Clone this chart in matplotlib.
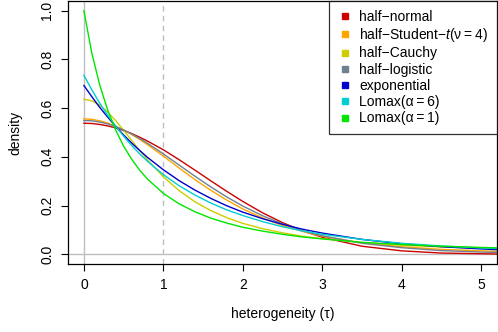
import matplotlib
matplotlib.use("Agg")
import matplotlib.pyplot as plt

plt.rcParams['font.family'] = ['Liberation Sans', 'DejaVu Sans']
plt.rcParams['mathtext.fontset'] = 'custom'
plt.rcParams['mathtext.rm'] = 'Liberation Sans'
plt.rcParams['mathtext.it'] = 'Liberation Sans:italic'

tau = [0, 0.1, 0.2, 0.3, 0.4, 0.5, 0.6, 0.7, 0.8, 1.0, 1.2, 1.4, 1.6, 1.8,
       2.0, 2.25, 2.5, 2.75, 3.0, 3.5, 4.0, 4.5, 5.0, 5.25]

half_normal = [0.538, 0.537, 0.533, 0.527, 0.519, 0.508, 0.496, 0.481, 0.465,
               0.429, 0.388, 0.345, 0.301, 0.258, 0.217, 0.170, 0.130, 0.096,
               0.070, 0.033, 0.014, 0.005, 0.002, 0.001]
half_t4 = [0.556, 0.554, 0.548, 0.539, 0.526, 0.511, 0.492, 0.472, 0.450,
           0.403, 0.354, 0.306, 0.262, 0.222, 0.186, 0.149, 0.118, 0.094,
           0.074, 0.047, 0.031, 0.020, 0.014, 0.011]
half_cauchy = [0.637, 0.630, 0.612, 0.584, 0.549, 0.509, 0.468, 0.427, 0.388,
               0.318, 0.261, 0.215, 0.179, 0.150, 0.127, 0.105, 0.088, 0.074,
               0.064, 0.048, 0.037, 0.030, 0.025, 0.022]
half_logistic = [0.549, 0.548, 0.543, 0.535, 0.524, 0.510, 0.494, 0.476, 0.456,
                 0.412, 0.366, 0.320, 0.276, 0.235, 0.198, 0.158, 0.125, 0.097,
                 0.076, 0.045, 0.027, 0.015, 0.009, 0.007]
exponential = [0.693, 0.647, 0.603, 0.563, 0.525, 0.490, 0.457, 0.427, 0.398,
               0.347, 0.302, 0.263, 0.229, 0.199, 0.173, 0.146, 0.123, 0.103,
               0.087, 0.061, 0.043, 0.031, 0.022, 0.018]
lomax6 = [0.735, 0.675, 0.620, 0.571, 0.526, 0.485, 0.447, 0.413, 0.382,
          0.327, 0.281, 0.243, 0.210, 0.182, 0.159, 0.134, 0.113, 0.096,
          0.082, 0.061, 0.045, 0.034, 0.026, 0.023]
lomax1 = [1.000, 0.826, 0.694, 0.592, 0.510, 0.444, 0.391, 0.346, 0.309,
          0.250, 0.207, 0.174, 0.148, 0.128, 0.111, 0.095, 0.082, 0.071,
          0.063, 0.049, 0.040, 0.033, 0.028, 0.026]

series = [half_normal, half_t4, half_cauchy, half_logistic, exponential, lomax6, lomax1]
labels = ["half\u2212normal",
          "half\u2212Student\u2212$\\mathit{t}$(\u03bd\u2009=\u20094)",
          "half\u2212Cauchy",
          "half\u2212logistic",
          "exponential",
          "Lomax(\u03b1\u2009=\u20096)",
          "Lomax(\u03b1\u2009=\u20091)"]
colors = ["#CD0000", "#FFA500", "#CDCD00", "#708090", "#0000CD", "#00CED1", "#00E600"]

fs = 10

fig = plt.figure(figsize=(4.98, 3.32), dpi=100)
ax = fig.add_axes([68 / 498, 68 / 332, 429 / 498, 263 / 332])

ax.axvline(0, color="#BEBEBE", lw=1.0, zorder=1)
ax.axhline(0, color="#BEBEBE", lw=1.0, zorder=1)
ax.axvline(1, color="#BEBEBE", lw=1.0, ls=(0, (4, 3)), zorder=1)

for y, c in zip(series, colors):
    ax.plot(tau, y, color=c, lw=1.0, zorder=2)

ax.set_xlim(-0.2, 5.2)
ax.set_ylim(-0.04, 1.04)
ax.set_xticks([0, 1, 2, 3, 4, 5])
ax.set_yticks([0.0, 0.2, 0.4, 0.6, 0.8, 1.0])
ax.set_yticklabels(["0.0", "0.2", "0.4", "0.6", "0.8", "1.0"], rotation=90, va="center")
ax.tick_params(direction="out", length=5, width=0.8, labelsize=fs, pad=5)
for s in ax.spines.values():
    s.set_linewidth(0.9)

ax.set_xlabel("heterogeneity (\u03c4)", fontsize=fs, labelpad=11)
ax.set_ylabel("density", fontsize=fs, labelpad=13)

handles = [plt.Line2D([], [], ls="none", marker="s", ms=5, color=c) for c in colors]
leg = ax.legend(handles, labels, loc="upper right", fontsize=fs, frameon=True,
                fancybox=False, edgecolor="black", borderaxespad=0,
                handlelength=1.0, handletextpad=0.5, labelspacing=0.16,
                borderpad=0.65)
leg.get_frame().set_linewidth(0.9)

fig.savefig("out.png", dpi=100)
